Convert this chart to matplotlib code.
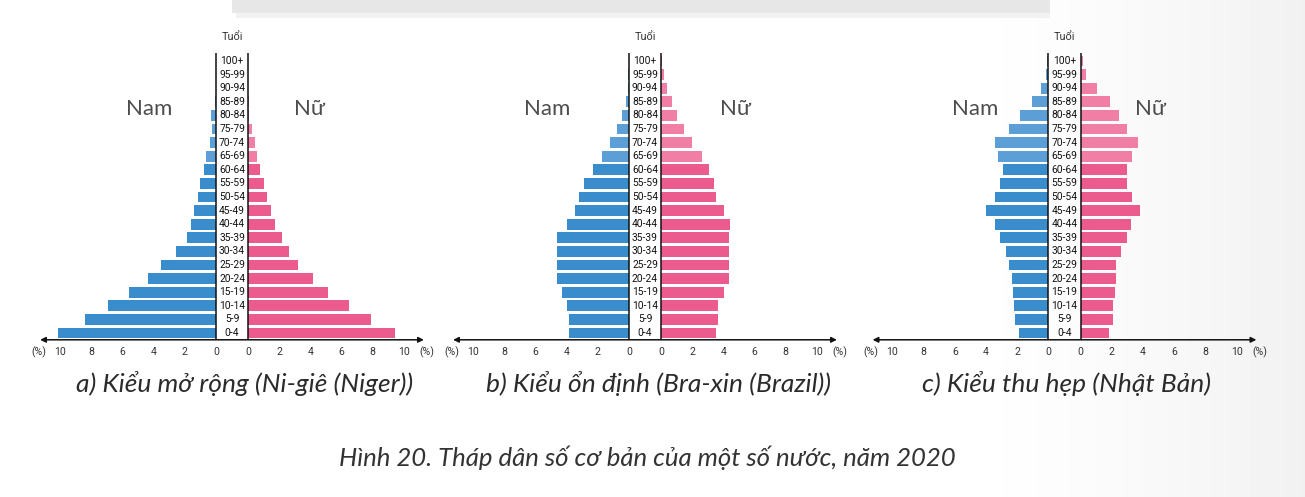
import numpy as np
import matplotlib.pyplot as plt
from matplotlib.patches import Rectangle

# data (%), youngest group first
age_groups = ['0-4', '5-9', '10-14', '15-19', '20-24', '25-29', '30-34', '35-39',
              '40-44', '45-49', '50-54', '55-59', '60-64', '65-69', '70-74',
              '75-79', '80-84', '85-89', '90-94', '95-99', '100+']

niger_male = [10.15, 8.4, 6.9, 5.55, 4.35, 3.5, 2.55, 1.85, 1.6, 1.4, 1.15, 1.05,
              0.75, 0.65, 0.4, 0.25, 0.33, 0.03, 0.02, 0.01, 0.0]
niger_female = [9.45, 7.85, 6.45, 5.15, 4.15, 3.2, 2.6, 2.2, 1.75, 1.45, 1.2, 1.05,
                0.75, 0.6, 0.42, 0.25, 0.05, 0.03, 0.02, 0.01, 0.0]

brazil_male = [3.85, 3.85, 4.0, 4.3, 4.6, 4.6, 4.6, 4.6, 4.0, 3.45, 3.2, 2.9,
               2.3, 1.7, 1.2, 0.75, 0.45, 0.22, 0.09, 0.04, 0.01]
brazil_female = [3.55, 3.65, 3.65, 4.05, 4.35, 4.35, 4.35, 4.35, 4.45, 4.05, 3.55, 3.4,
                 3.1, 2.6, 2.0, 1.5, 1.05, 0.7, 0.4, 0.16, 0.06]

japan_male = [1.9, 2.15, 2.2, 2.3, 2.35, 2.5, 2.75, 3.1, 3.4, 4.0, 3.4, 3.1,
              2.9, 3.25, 3.4, 2.5, 1.8, 1.05, 0.45, 0.15, 0.08]
japan_female = [1.8, 2.05, 2.05, 2.2, 2.3, 2.3, 2.6, 2.95, 3.25, 3.8, 3.3, 3.0,
                2.95, 3.3, 3.7, 3.0, 2.45, 1.9, 1.05, 0.38, 0.17]

ticks = [0, 2, 4, 6, 8, 10]
subtitles = ['a) Kiểu mở rộng (Ni-giê (Niger))',
             'b) Kiểu ổn định (Bra-xin (Brazil))',
             'c) Kiểu thu hẹp (Nhật Bản)']
caption = 'Hình 20. Tháp dân số cơ bản của một số nước, năm 2020'

W, H = 1305, 497
fig = plt.figure(figsize=(W / 100, H / 100), dpi=100)

# background with the soft grey fade on the right + grey strip on top
bg = fig.add_axes([0, 0, 1, 1])
xs = np.linspace(0, 1, 400)
fade = np.clip((xs - 0.72) / 0.28, 0, 1) ** 1.5
grad = np.tile(1 - 0.055 * fade, (2, 1))
bg.imshow(grad, cmap='gray', vmin=0, vmax=1, extent=(0, W, H, 0), aspect='auto')
bg.add_patch(Rectangle((236, 12), 814, 6, color='#f2f2f2', lw=0))
bg.add_patch(Rectangle((232, 0), 818, 13, color='#e7e7e7', lw=0))
bg.set_xlim(0, W)
bg.set_ylim(H, 0)
bg.axis('off')

sx, sy = 15.6, 13.6          # pixels per % and per age row
row0 = 333                   # pixel y of the 0-4 row
GAP = 1.03                   # half width of the age column, in %
x_lo, x_hi, y_lo, y_hi = -13.5, 13.5, -2, 23

male_c, male_light = '#3a8dcc', '#5c9fd6'
fem_c, fem_light = '#ec5b8d', '#f07ea5'

pyramids = [
    dict(cx=232, male=niger_male, female=niger_female, nam=-5.3, nu=5.0, sub_x=245),
    dict(cx=645, male=brazil_male, female=brazil_female, nam=-6.3, nu=5.8, sub_x=659),
    dict(cx=1064.5, male=japan_male, female=japan_female, nam=-5.7, nu=5.5, sub_x=1066),
]

y = np.arange(len(age_groups))
mcols = [male_c if i < 13 else male_light for i in y]
fcols = [fem_c if i < 13 else fem_light for i in y]

for p, sub in zip(pyramids, subtitles):
    left = p['cx'] + x_lo * sx
    top = row0 - y_hi * sy
    ax = fig.add_axes([left / W, 1 - (top + (y_hi - y_lo) * sy) / H,
                       (x_hi - x_lo) * sx / W, (y_hi - y_lo) * sy / H])
    ax.set_facecolor('none')
    ax.set_xlim(x_lo, x_hi)
    ax.set_ylim(y_lo, y_hi)

    ax.barh(y, -np.array(p['male']), left=-GAP, height=0.8, color=mcols, lw=0)
    ax.barh(y, p['female'], left=GAP, height=0.8, color=fcols, lw=0)

    # age column
    for gx in (-GAP, GAP):
        ax.plot([gx, gx], [-0.5, 20.6], color='#111111', lw=1.1, solid_capstyle='butt')
    for i, lab in enumerate(age_groups):
        ax.text(0, i, lab, ha='center', va='center', fontsize=7.4,
                family='Roboto', color='#111111')
    ax.text(0, 21.75, 'Tuổi', ha='center', va='center', fontsize=7.8,
            family='Roboto', color='#333333')

    ax.text(p['nam'], 16.5, 'Nam', ha='center', va='center', fontsize=16,
            family='Lato', color='#4d4d4d')
    ax.text(p['nu'], 16.5, 'Nữ', ha='center', va='center', fontsize=16,
            family='Lato', color='#4d4d4d')

    # double arrow x axis
    ax.annotate('', xy=(12.3, -0.5), xytext=(-12.3, -0.5),
                arrowprops=dict(arrowstyle='<|-|>', color='#111111', lw=1.1,
                                mutation_scale=8, shrinkA=0, shrinkB=0))

    pos = [-(GAP + t) for t in ticks] + [GAP + t for t in ticks] + [-12.4, 12.5]
    labs = [str(t) for t in ticks] * 2 + ['(%)', '(%)']
    ax.set_xticks(pos)
    ax.set_xticklabels(labs)
    ax.set_yticks([])
    ax.spines['bottom'].set_position(('data', -0.5))
    for s in ax.spines.values():
        s.set_visible(False)
    ax.tick_params(axis='x', length=0, pad=5, labelsize=7.6, labelcolor='#333333')
    for t in ax.get_xticklabels():
        t.set_family('Roboto')

    fig.text(p['sub_x'] / W, 1 - 383 / H, sub, ha='center', va='center',
             fontsize=19, style='italic', family='Lato', color='#2b2b2b')

fig.text(647 / W, 1 - 458 / H, caption, ha='center', va='center',
         fontsize=18.5, style='italic', family='Lato', color='#333333')

fig.savefig('out.png', dpi=100)
